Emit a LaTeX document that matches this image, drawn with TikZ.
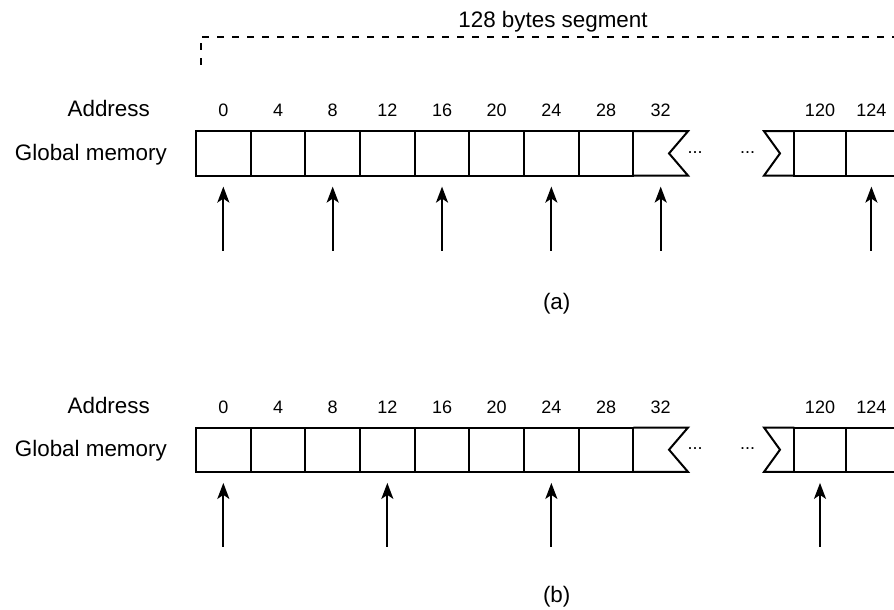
\documentclass[tikz,border=0pt]{standalone}
\usepackage{fontspec}
\setmainfont{Liberation Sans}
\usetikzlibrary{arrows.meta}

\tikzset{
  cell/.style={draw, line width=2pt, rectangle, minimum width=54.67pt,
    minimum height=44.4pt, inner sep=0pt, outer sep=0pt},
  slot/.style={cell, draw=none},
  narrowcell/.style={cell, minimum width=51.4pt},
  edge/.style={line width=2pt, line join=miter},
  addr/.style={font=\fontsize{18}{20}\selectfont, anchor=base, inner sep=0pt},
  lbl/.style={font=\fontsize{22.4}{26}\selectfont, inner sep=0pt},
  dots/.style={font=\fontsize{18}{20}\selectfont, anchor=base, inner sep=0pt},
  ptr/.style={-{Stealth[length=16pt,width=12pt,inset=4pt]}, line width=2pt,
    shorten >=11pt},
  seg/.style={line width=1.8pt, dash pattern=on 7pt off 8pt},
}

\begin{document}
\begin{tikzpicture}[x=1pt,y=-1pt]
\clip (0,0) rectangle (894,610);

% segment bracket
\node[lbl, anchor=base] (segtitle) at (553,28) {128 bytes segment};
\coordinate (seg-l) at (200.7,65);
\coordinate (seg-c) at (200.7,36.7);
\coordinate (seg-r) at (900,36.7);
\draw[seg] (seg-l) -- (seg-c) -- (seg-r);

% two memory rows
\foreach \r/\cy in {a/153.4,b/449.7}{
  \foreach \i in {0,...,7}{
    \node[cell] (\r\i) at ({223.335+54.67*\i},\cy) {};
  }
  \node[slot] (\r8) at ({223.335+54.67*8},\cy) {};
  \draw[edge] (\r8.north west) -- (\r8.north east)
    -- ([xshift=-19pt]\r8.east) -- (\r8.south east) -- (\r8.south west);
  \node[narrowcell] (\r9) at (820,\cy) {};
  \node[narrowcell] (\r10) at (871.4,\cy) {};
  \draw[edge] (\r9.north west) -- ([xshift=-30.3pt]\r9.north west)
    -- ([xshift=-14.3pt]\r9.west) -- ([xshift=-30.3pt]\r9.south west)
    -- (\r9.south west);
  \node[dots] (\r-dl) at (695,\cy) {...};
  \node[dots] (\r-dr) at (747.5,\cy) {...};
  % byte addresses
  \foreach \i in {0,...,8}{
    \pgfmathtruncatemacro\v{4*\i}
    \node[addr] (\r-l\i) at ([yshift=14.3pt]\r\i.north) {\v};
  }
  \node[addr] (\r-l9) at ([yshift=14.3pt]\r9.north) {120};
  \node[addr] (\r-l10) at ([yshift=14.3pt]\r10.north) {124};
  % row titles
  \node[lbl, anchor=base east] (\r-addr) at (150,\cy-36.7) {Address};
  \node[lbl, anchor=base east] (\r-mem) at (167,\cy+6.6) {Global memory};
}

% accesses, stride 8 bytes
\foreach \i in {0,2,4,6,8,10}{
  \coordinate (a-t\i) at ([yshift=-75pt]a\i.south);
  \draw[ptr] (a-t\i) -- (a\i);
}
% accesses, stride 12 bytes
\foreach \i in {0,3,6,9}{
  \coordinate (b-t\i) at ([yshift=-75pt]b\i.south);
  \draw[ptr] (b-t\i) -- (b\i);
}

\node[lbl] (cap-a) at (556.7,304) {(a)};
\node[lbl] (cap-b) at (556.7,596.7) {(b)};
\end{tikzpicture}
\end{document}
